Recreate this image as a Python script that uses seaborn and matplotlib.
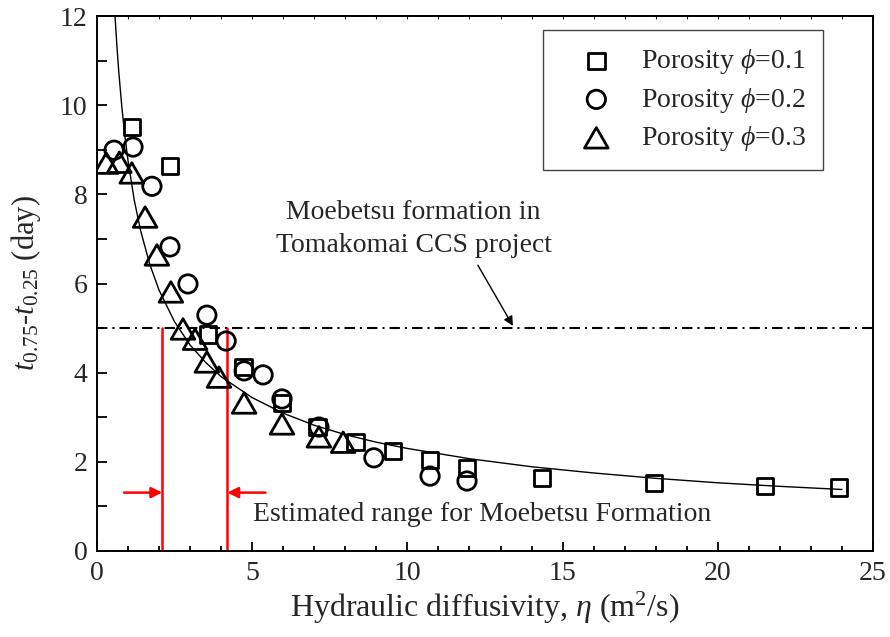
import matplotlib
matplotlib.use('Agg')
import matplotlib.pyplot as plt
import seaborn as sns
from matplotlib.path import Path
from matplotlib.ticker import MultipleLocator

# ---- data ----
sq_x = [1.13, 2.35, 3.58, 4.72, 5.96, 7.10, 8.33, 9.54, 10.73, 11.92, 14.34, 17.94, 21.52, 23.90]
sq_y = [9.51, 8.63, 4.86, 4.13, 3.32, 2.78, 2.44, 2.24, 2.04, 1.86, 1.64, 1.52, 1.46, 1.42]

ci_x = [0.55, 1.16, 1.77, 2.35, 2.93, 3.54, 4.16, 4.74, 5.35, 5.96, 7.15, 8.92, 10.73, 11.92]
ci_y = [8.99, 9.06, 8.18, 6.82, 5.99, 5.29, 4.71, 4.04, 3.95, 3.41, 2.78, 2.09, 1.68, 1.57]

tr_x = [0.30, 0.72, 1.12, 1.55, 1.93, 2.38, 2.77, 3.16, 3.54, 3.93, 4.74, 5.96, 7.15, 7.93]
tr_y = [8.70, 8.72, 8.48, 7.49, 6.64, 5.81, 4.98, 4.75, 4.24, 3.90, 3.32, 2.85, 2.56, 2.44]

curve_x = [0.58, 0.65, 0.70, 0.80, 0.90, 1.0, 1.2, 1.4, 1.7, 2.0, 2.5, 3.0, 3.5, 4.0, 5.0,
           6.0, 7.0, 8.0, 9.0, 10.0, 12.0, 14.0, 16.0, 18.0, 20.0, 22.0, 24.0]
curve_y = [12.0, 11.24, 10.76, 9.96, 9.30, 8.75, 7.87, 7.20, 6.43, 5.85, 5.14, 4.62, 4.23, 3.91, 3.44,
           3.09, 2.82, 2.61, 2.44, 2.30, 2.07, 1.89, 1.75, 1.63, 1.53, 1.45, 1.38]

series_labels = [r'Porosity $\phi$=0.1', r'Porosity $\phi$=0.2', r'Porosity $\phi$=0.3']

moebetsu_level = 5.0
range_low = 2.1
range_high = 4.2

x_ticks = [0, 5, 10, 15, 20, 25]
y_ticks = [0, 2, 4, 6, 8, 10, 12]

# ---- style ----
sns.set_style('ticks')
plt.rcParams['font.family'] = ['Liberation Serif', 'DejaVu Serif']
plt.rcParams['mathtext.fontset'] = 'custom'
plt.rcParams['mathtext.rm'] = 'Liberation Serif'
plt.rcParams['mathtext.it'] = 'Liberation Serif:italic'
plt.rcParams['mathtext.bf'] = 'Liberation Serif:bold'
FS = 20

fig = plt.figure(figsize=(8.9, 6.37), dpi=100)
ax = fig.add_axes([97 / 890, 1 - 551 / 637, 776 / 890, 535 / 637])

# fitted curve
sns.lineplot(x=curve_x, y=curve_y, ax=ax, color='black', linewidth=1.0,
             estimator=None, sort=False, zorder=2)

tri = Path([(0, 0.75), (-0.866, -0.75), (0.866, -0.75), (0, 0.75)],
           [Path.MOVETO, Path.LINETO, Path.LINETO, Path.CLOSEPOLY])

for xs, ys, mk, sz, lab in [(sq_x, sq_y, 's', 140, series_labels[0]),
                            (ci_x, ci_y, 'o', 175, series_labels[1]),
                            (tr_x, tr_y, tri, 290, series_labels[2])]:
    sns.scatterplot(x=xs, y=ys, ax=ax, marker=mk, s=sz, facecolor='none',
                    edgecolor='black', linewidth=2.0, label=lab, zorder=3)

# Moebetsu line
ax.axhline(moebetsu_level, color='black', linewidth=1.5,
           linestyle=(0, (5, 2.4, 1, 2.4)), zorder=1)

# estimated range
for xv in [range_low, range_high]:
    ax.plot([xv, xv], [0, moebetsu_level], color='red', linewidth=1.8, zorder=1)

arrow_y = 1.31
ax.annotate('', xy=(range_low, arrow_y), xytext=(0.87, arrow_y),
            arrowprops=dict(arrowstyle='-|>', color='red', lw=1.8,
                            mutation_scale=16, shrinkA=0, shrinkB=0))
ax.annotate('', xy=(range_high, arrow_y), xytext=(5.43, arrow_y),
            arrowprops=dict(arrowstyle='-|>', color='red', lw=1.8,
                            mutation_scale=16, shrinkA=0, shrinkB=0))
ax.text(5.03, 0.81, 'Estimated range for Moebetsu Formation', fontsize=FS,
        ha='left', va='center')

ax.text(10.2, 7.22, 'Moebetsu formation in\nTomakomai CCS project', fontsize=FS,
        ha='center', va='center', multialignment='center', linespacing=1.4)
ax.annotate('', xy=(13.4, 5.05), xytext=(12.27, 6.41),
            arrowprops=dict(arrowstyle='-|>', color='black', lw=1.0,
                            mutation_scale=14, shrinkA=0, shrinkB=0))

# axes
ax.set_xlim(0, 25)
ax.set_ylim(0, 12)
ax.set_xticks(x_ticks)
ax.set_yticks(y_ticks)
ax.xaxis.set_minor_locator(MultipleLocator(1))
ax.yaxis.set_minor_locator(MultipleLocator(1))
ax.tick_params(axis='both', which='both', direction='in', labelsize=FS, color='black')
ax.tick_params(axis='x', which='major', length=6.5, width=1.3, pad=7)
ax.tick_params(axis='x', which='minor', length=3.5, width=1.3)
ax.tick_params(axis='y', which='major', length=7, width=1.3, pad=7)
ax.tick_params(axis='y', which='minor', length=7, width=1.3)
for side in ['left', 'bottom', 'top', 'right']:
    ax.spines[side].set_visible(True)
    ax.spines[side].set_linewidth(1.4)
    ax.spines[side].set_color('black')

# short ticks along the top edge
top = ax.secondary_xaxis('top')
top.set_xticks(range(0, 26))
top.tick_params(direction='in', length=1.8, width=0.8, labeltop=False)
top.spines['top'].set_linewidth(1.4)

ax.set_xlabel(r'Hydraulic diffusivity, $\eta$ (m$^2$/s)', fontsize=23, labelpad=3)
ax.set_ylabel(r'$t_{0.75}$-$t_{0.25}$ (day)', fontsize=22, labelpad=12)

leg = ax.legend(loc='upper left', bbox_to_anchor=((543 - 97) / 776, (551 - 30) / 535),
                borderaxespad=0, frameon=True, fancybox=False, framealpha=1,
                edgecolor='#444444', fontsize=FS, borderpad=0.62, handlelength=2.6,
                handletextpad=0.3, labelspacing=0.34)
leg.get_frame().set_linewidth(1.0)

fig.savefig('out.png', dpi=100)
